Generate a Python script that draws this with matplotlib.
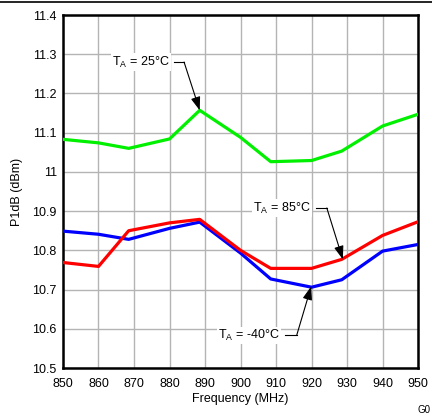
import matplotlib
matplotlib.use("Agg")
import matplotlib.pyplot as plt

plt.rcParams.update({
    "font.family": ["Liberation Sans", "DejaVu Sans"],
    "font.size": 9,
    "mathtext.fontset": "custom",
    "mathtext.rm": "Liberation Sans",
})

# frequency points (MHz)
freq = [850, 860, 868.5, 880, 888.5, 900, 908.5, 920, 928.5, 940, 950]
p1db_25c = [11.083, 11.074, 11.060, 11.084, 11.157, 11.088, 11.026, 11.029, 11.053, 11.117, 11.147]
p1db_85c = [10.769, 10.759, 10.850, 10.870, 10.879, 10.800, 10.754, 10.754, 10.777, 10.838, 10.873]
p1db_m40c = [10.849, 10.841, 10.828, 10.856, 10.872, 10.793, 10.727, 10.706, 10.725, 10.798, 10.815]

x_ticks = list(range(850, 951, 10))
y_ticks = [10.5, 10.6, 10.7, 10.8, 10.9, 11, 11.1, 11.2, 11.3, 11.4]
y_tick_labels = ["10.5", "10.6", "10.7", "10.8", "10.9", "11", "11.1", "11.2", "11.3", "11.4"]

fig = plt.figure(figsize=(4.32, 4.18), dpi=100)
ax = fig.add_axes([0.1458, 0.1196, 0.822, 0.8445])

ax.plot(freq, p1db_25c, color="#00F000", lw=2.3, zorder=3)
ax.plot(freq, p1db_85c, color="#FF0000", lw=2.3, zorder=4)
ax.plot(freq, p1db_m40c, color="#0000FF", lw=2.3, zorder=3)

ax.set_xlim(850, 950)
ax.set_ylim(10.5, 11.4)
ax.set_xticks(x_ticks)
ax.set_yticks(y_ticks)
ax.set_yticklabels(y_tick_labels)
ax.grid(True, color="#b4b4b4", lw=1.0)
ax.set_axisbelow(True)
ax.tick_params(axis="y", length=0, pad=4.5)
ax.tick_params(axis="x", length=0, pad=7)
for s in ax.spines.values():
    s.set_linewidth(1.8)
    s.set_color("black")

ax.set_xlabel("Frequency (MHz)", labelpad=2)
ax.set_ylabel("P1dB (dBm)", labelpad=7)


def label(text, tx, ty, corner, tip, line_start):
    ax.text(tx, ty, text, ha="center", va="center", zorder=5,
            bbox=dict(facecolor="white", edgecolor="none", pad=1.0))
    ax.plot([line_start, corner[0]], [ty, ty], color="black", lw=0.8, zorder=5)
    ax.annotate("", xy=tip, xytext=corner, zorder=6,
                arrowprops=dict(arrowstyle="-|>,head_length=0.9,head_width=0.32",
                                color="black", lw=0.8, shrinkA=0, shrinkB=0))


label(r"T$_\mathrm{A}$ = 25°C", 872.0, 11.28, (884.1, 11.28), (888.5, 11.157), 881.3)
label(r"T$_\mathrm{A}$ = 85°C", 911.7, 10.908, (924.3, 10.908), (928.8, 10.777), 921.2)
label(r"T$_\mathrm{A}$ = -40°C", 902.4, 10.583, (915.8, 10.583), (919.9, 10.708), 912.5)

# rule across the top and the figure tag at bottom right
fig.add_artist(plt.Line2D([0, 1], [0.995, 0.995], color="black", lw=1.2))
fig.text(0.997, 0.008, "G0", fontsize=7, ha="right", va="bottom")

fig.savefig("out.png", dpi=100)
